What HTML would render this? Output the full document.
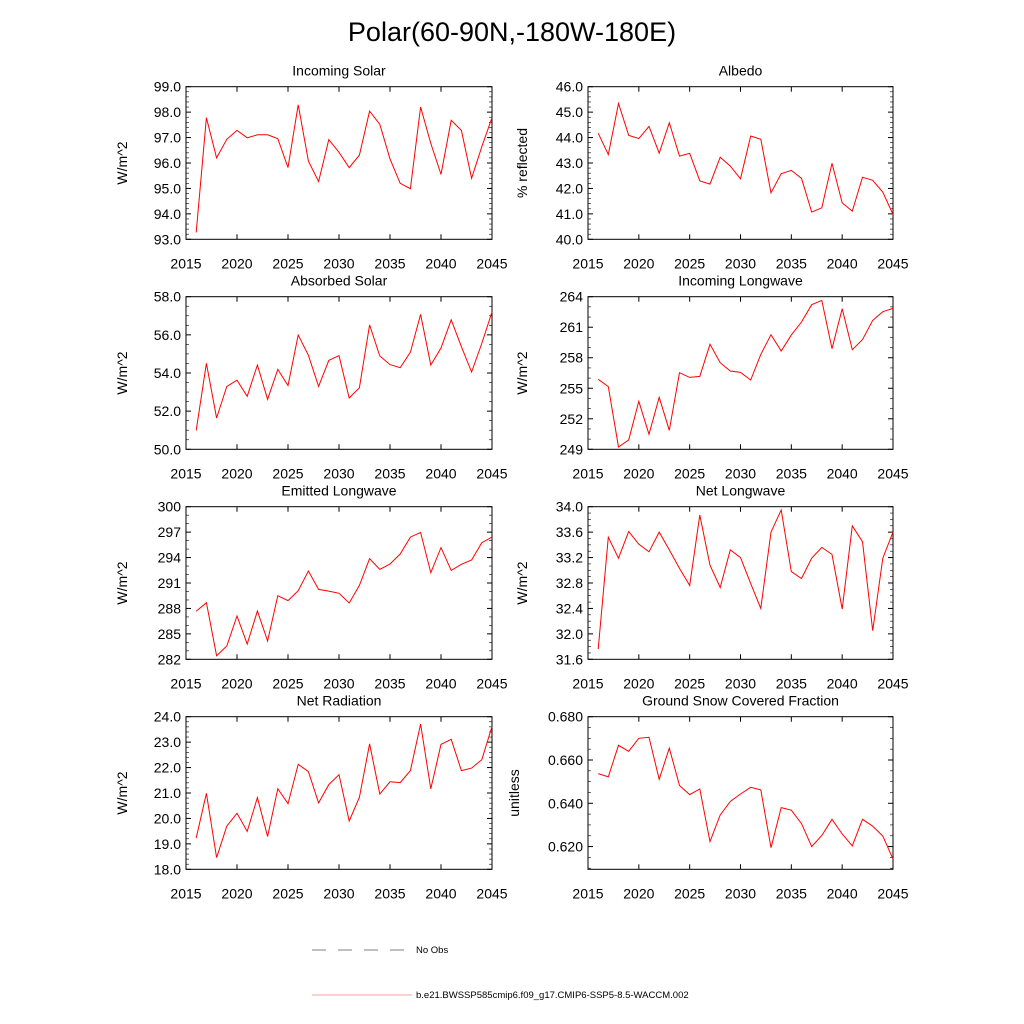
<!DOCTYPE html>
<html><head><meta charset="utf-8"><style>
body{margin:0;background:#fff}
svg{display:block;font-family:"Liberation Sans",sans-serif}
</style></head><body>
<svg id="chart" width="1024" height="1024" viewBox="0 0 1024 1024" xmlns="http://www.w3.org/2000/svg">
<rect width="1024" height="1024" fill="#fff"/>
<text x="512" y="41" font-size="27" text-anchor="middle">Polar(60-90N,-180W-180E)</text>
<g id="panels"></g>
<g>
<line x1="312" y1="950" x2="412" y2="950" stroke="#000" stroke-width="0.6" stroke-dasharray="14,12"/>
<text x="416" y="953" font-size="9.5">No Obs</text>
<line x1="312" y1="995" x2="412" y2="995" stroke="#f08080" stroke-width="0.8"/>
<text x="416" y="998" font-size="9.5">b.e21.BWSSP585cmip6.f09_g17.CMIP6-SSP5-8.5-WACCM.002</text>
</g>
</svg>
<script>
const years=[];for(let y=2016;y<=2045;y++)years.push(y);
const xTicks=[2015,2020,2025,2030,2035,2040,2045];
const incomingSolar=[93.27,97.78,96.20,96.93,97.28,96.99,97.11,97.11,96.96,95.82,98.29,96.08,95.27,96.92,96.42,95.82,96.31,98.04,97.52,96.16,95.20,94.99,98.20,96.77,95.55,97.68,97.28,95.40,96.64,97.78];
const albedo=[44.17,43.33,45.34,44.09,43.96,44.44,43.39,44.58,43.27,43.38,42.30,42.17,43.23,42.88,42.38,44.06,43.93,41.83,42.58,42.71,42.40,41.07,41.24,42.99,41.43,41.11,42.44,42.32,41.85,40.98];
const absorbedSolar=[50.99,54.51,51.64,53.30,53.62,52.78,54.42,52.62,54.19,53.34,55.99,54.93,53.30,54.66,54.91,52.69,53.23,56.52,54.89,54.44,54.28,55.09,57.07,54.42,55.31,56.79,55.38,54.05,55.55,57.20];
const incomingLW=[255.88,255.16,249.23,249.92,253.72,250.47,254.11,250.87,256.53,256.07,256.17,259.32,257.51,256.70,256.56,255.81,258.33,260.26,258.66,260.23,261.51,263.21,263.64,258.89,262.82,258.79,259.78,261.67,262.53,262.85];
const emittedLW=[287.66,288.68,282.43,283.57,287.11,283.80,287.70,284.16,289.50,288.92,290.09,292.41,290.25,290.05,289.78,288.64,290.72,293.87,292.61,293.24,294.42,296.42,296.97,292.22,295.17,292.49,293.20,293.71,295.75,296.42];
const netLW=[31.76,33.52,33.19,33.61,33.41,33.29,33.60,33.32,33.03,32.76,33.87,33.08,32.73,33.32,33.20,32.79,32.40,33.60,33.95,32.98,32.87,33.19,33.36,33.25,32.39,33.70,33.45,32.05,33.19,33.60];
const netRad=[19.23,20.99,18.46,19.70,20.20,19.49,20.82,19.29,21.17,20.58,22.13,21.84,20.61,21.33,21.72,19.90,20.83,22.93,20.96,21.44,21.41,21.88,23.71,21.16,22.91,23.11,21.88,21.98,22.31,23.61];
const snowFrac=[.6537,.6522,.6668,.6640,.6700,.6705,.6511,.6655,.6482,.6440,.6466,.6223,.6346,.6408,.6443,.6474,.6462,.6195,.6380,.6368,.6306,.6200,.6251,.6326,.6258,.6203,.6326,.6294,.6249,.6142];

const panels=[
 {name:'incoming-solar',title:'Incoming Solar',yl:'W/m^2',data:incomingSolar,ymin:93,ymax:99,maj:1,min:0.2,dec:1,col:0,row:0},
 {name:'albedo',title:'Albedo',yl:'% reflected',data:albedo,ymin:40,ymax:46,maj:1,min:0.2,dec:1,col:1,row:0},
 {name:'absorbed-solar',title:'Absorbed Solar',yl:'W/m^2',data:absorbedSolar,ymin:50,ymax:58,maj:2,min:0.5,dec:1,col:0,row:1},
 {name:'incoming-longwave',title:'Incoming Longwave',yl:'W/m^2',data:incomingLW,ymin:249,ymax:264,maj:3,min:1,dec:0,col:1,row:1},
 {name:'emitted-longwave',title:'Emitted Longwave',yl:'W/m^2',data:emittedLW,ymin:282,ymax:300,maj:3,min:1,dec:0,col:0,row:2},
 {name:'net-longwave',title:'Net Longwave',yl:'W/m^2',data:netLW,ymin:31.6,ymax:34.0,maj:0.4,min:0.1,dec:1,col:1,row:2},
 {name:'net-radiation',title:'Net Radiation',yl:'W/m^2',data:netRad,ymin:18,ymax:24,maj:1,min:0.2,dec:1,col:0,row:3},
 {name:'snow-fraction',title:'Ground Snow Covered Fraction',yl:'unitless',data:snowFrac,ymin:0.6095,ymax:0.68,maj:0.02,min:0.005,dec:3,col:1,row:3}
];
const NS='http://www.w3.org/2000/svg';
const root=document.getElementById('panels');
function mk(tag,attrs,parent){const e=document.createElementNS(NS,tag);for(const k in attrs)e.setAttribute(k,attrs[k]);parent.appendChild(e);return e;}
const colX=[[186,492],[588,893]];
const rowY=[[86.7,239.3],[296.7,449.3],[506.7,659.3],[716.7,869.3]];
panels.forEach(p=>{
 const [x0,x1]=colX[p.col],[y0,y1]=rowY[p.row];
 const xs=v=>x0+(v-2015)/(2045-2015)*(x1-x0);
 const ys=v=>y1-(v-p.ymin)/(p.ymax-p.ymin)*(y1-y0);
 const g=mk('g',{},root);
 
 
 const t=mk('text',{x:(x0+x1)/2,y:y0-11,'font-size':14,'text-anchor':'middle'},g);t.textContent=p.title;
 
 
 const yx=p.col?(p.yl==='unitless'?519:527):127;
 const yt=mk('text',{x:yx,y:(y0+y1)/2,'font-size':14,'text-anchor':'middle',transform:`rotate(-90 ${yx} ${(y0+y1)/2})`},g);yt.textContent=p.yl;
 
 
 xTicks.forEach(v=>{const x=xs(v);
  mk('line',{x1:x,x2:x,y1:y1,y2:y1-5,stroke:'#000','stroke-width':1},g);
  mk('line',{x1:x,x2:x,y1:y0,y2:y0+5,stroke:'#000','stroke-width':1},g);
  const l=mk('text',{x:x,y:y1+29,'font-size':14,'text-anchor':'middle'},g);l.textContent=v;
  
  
 });
 const eps=1e-9;
 const start=Math.ceil((p.ymin-eps)/p.min)*p.min;
 for(let v=start;v<=p.ymax+eps;v+=p.min){
  const r=Math.abs(v/p.maj-Math.round(v/p.maj))<1e-6;const y=ys(v);const L=r?5:3;
  mk('line',{x1:x0,x2:x0+L,y1:y,y2:y,stroke:'#000','stroke-width':r?1:0.6},g);
  mk('line',{x1:x1,x2:x1-L,y1:y,y2:y,stroke:'#000','stroke-width':r?1:0.6},g);
  if(r){const l=mk('text',{x:x0-5,y:y+5,'font-size':14,'text-anchor':'end'},g);l.textContent=v.toFixed(p.dec);
   
   }
 }
 mk('rect',{x:x0,y:y0,width:x1-x0,height:y1-y0,fill:'none',stroke:'#000','stroke-width':1},g);
 const pts=p.data.map((v,i)=>xs(years[i]).toFixed(1)+','+ys(v).toFixed(1)).join(' ');
 const pl=mk('polyline',{points:pts,fill:'none',stroke:'#ff0000','stroke-width':1},g);
 
 
});
</script>
</body></html>
